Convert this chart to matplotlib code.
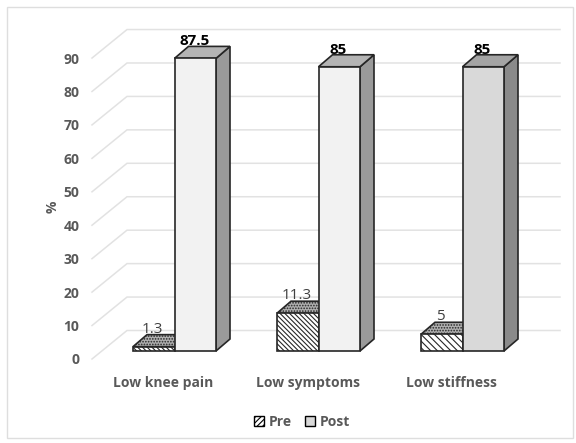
import matplotlib
matplotlib.use("Agg")
import matplotlib.pyplot as plt
from matplotlib.patches import Polygon, Patch, Rectangle
from matplotlib.transforms import ScaledTranslation

categories = ["Low knee pain", "Low symptoms", "Low stiffness"]
pre = [1.3, 11.3, 5]
post = [87.5, 85, 85]
pre_labels = ["1.3", "11.3", "5"]
post_labels = ["87.5", "85", "85"]
yticks = list(range(0, 100, 10))
post_fronts = ["#f2f2f2", "#f2f2f2", "#d9d9d9"]
post_sides = ["#9a9a9a", "#9a9a9a", "#8a8a8a"]
post_tops = ["#b4b4b4", "#b4b4b4", "#a4a4a4"]

plt.rcParams["font.family"] = ["Open Sans", "DejaVu Sans"]
plt.rcParams["hatch.linewidth"] = 0.8
W, H = 576, 443
fig = plt.figure(figsize=(W / 100, H / 100), dpi=100)
fig.patch.set_facecolor("white")
fig.add_artist(Rectangle((7 / W, 1 - 438 / H), 566 / W, 431 / H, transform=fig.transFigure,
                         fill=False, ec="#dedede", lw=1))

L, R, B, T = 92, 560, 359, 29
ax = fig.add_axes([L / W, 1 - B / H, (R - L) / W, (B - T) / H])
YS = 3.344
XS = 144.0
ax.set_ylim(0, (B - T) / YS)
ax.set_xlim((L - 174.5) / XS, (R - 174.5) / XS)
ax.patch.set_visible(False)
for s in ax.spines.values():
    s.set_visible(False)

dx = lambda px: px / XS
dy = lambda px: px / YS
grid = "#e2e2e2"
x0, x1 = ax.get_xlim()
for t in yticks:
    ax.plot([x0, x0 + dx(35), x1], [t, t + dy(28.5), t + dy(28.5)], color=grid, lw=1.1,
            zorder=1, clip_on=False, solid_joinstyle="miter")

ax.set_yticks(yticks)
ax.set_yticklabels([str(t) for t in yticks], color="#595959", fontsize=10, fontweight="bold")
ax.set_xticks(range(3))
ax.set_xticklabels(categories, color="#595959", fontsize=10, fontweight="bold")
ax.tick_params(length=0)
ax.tick_params(axis="y", pad=9)
ax.tick_params(axis="x", pad=12)
shift = ScaledTranslation(-11 / 100, 0, fig.dpi_scale_trans)
for lab in ax.get_xticklabels():
    lab.set_transform(lab.get_transform() + shift)
ax.set_ylabel("%", color="#595959", fontsize=10, fontweight="bold", labelpad=3, y=0.46)

bw = 41.5 / XS
ox, oy = dx(14), dy(12)
base = dy(8)
edge = "#262626"
for i, (a, b) in enumerate(zip(pre, post)):
    l = i - bw
    m = i
    r = i + bw
    ya = base + a
    ax.add_patch(Polygon([(l, ya), (m, ya), (m + ox, ya + oy), (l + ox, ya + oy)],
                         fc="#b0b0b0", ec=edge, lw=1.2, hatch="......", zorder=3, clip_on=False))
    ax.add_patch(Rectangle((l, base), bw, a, fc="white", ec=edge, lw=1.2,
                           hatch="\\\\\\\\\\\\\\" if i != 2 else "\\\\\\\\\\", zorder=3, clip_on=False))
    yb = base + b
    ax.add_patch(Polygon([(r, base), (r + ox, base + oy), (r + ox, yb + oy), (r, yb)],
                         fc=post_sides[i], ec=edge, lw=1.2, zorder=4, clip_on=False))
    ax.add_patch(Polygon([(m, yb), (r, yb), (r + ox, yb + oy), (m + ox, yb + oy)],
                         fc=post_tops[i], ec=edge, lw=1.2, zorder=4, clip_on=False))
    ax.add_patch(Rectangle((m, base), bw, b, fc=post_fronts[i], ec=edge, lw=1.2,
                           zorder=4, clip_on=False))
    ax.text(l + bw / 2 + ox / 2 - dx(8), ya + oy - dy(2), pre_labels[i], ha="center", va="bottom",
            fontsize=11, color="#404040", zorder=5)
    ax.text(m + bw / 2 + ox / 2 - dx(8), yb + oy - dy(2), post_labels[i], ha="center", va="bottom",
            fontsize=11, color="black", fontweight="bold", zorder=5)

handles = [Patch(fc="white", ec="black", hatch="//////", label="Pre"),
           Patch(fc="#d9d9d9", ec="black", label="Post")]
fig.legend(handles=handles, loc="center", bbox_to_anchor=(302 / W, 1 - 422 / H), ncol=2,
           frameon=False, handlelength=0.75, handleheight=0.75, handletextpad=0.35,
           columnspacing=0.9, labelcolor="#595959", prop={"size": 10, "weight": "bold"})

fig.savefig("out.png", dpi=100, facecolor="white")
